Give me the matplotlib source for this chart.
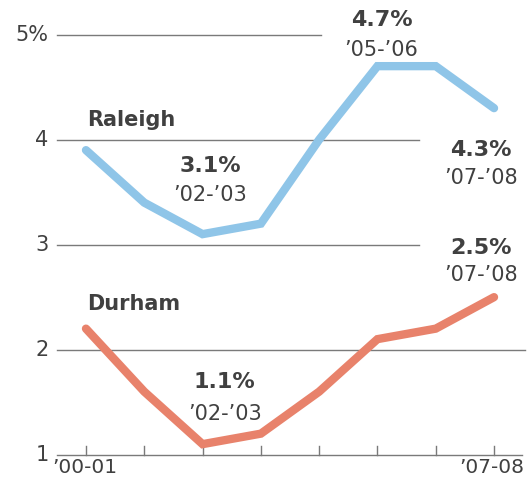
import matplotlib
matplotlib.use("Agg")
import matplotlib.pyplot as plt

years = ["\u201900-01", "\u201901-02", "\u201902-03", "\u201903-04",
         "\u201904-05", "\u201905-06", "\u201906-07", "\u201907-08"]
raleigh = [3.9, 3.4, 3.1, 3.2, 4.0, 4.7, 4.7, 4.3]
durham = [2.2, 1.6, 1.1, 1.2, 1.6, 2.1, 2.2, 2.5]
ytick_vals = [1, 2, 3, 4, 5]
ytick_labels = ["1", "2", "3", "4", "5%"]

plt.rcParams['font.family'] = ['DejaVu Sans']
TXT = "#404040"
BLUE = "#8fc5e8"
RED = "#e8826b"

fig = plt.figure(figsize=(5.29, 4.83), dpi=100)
ax = fig.add_axes([0, 0, 1, 1])
ax.set_xlim(-1.475, 7.6)
ax.set_ylim(0.73, 5.33)
ax.axis("off")

x = list(range(len(years)))

# gridlines with individual extents
grid_ends = {5: 4.03, 4: 5.71, 3: 5.71, 2: 7.53, 1: 7.48}
for v in ytick_vals:
    ax.plot([-0.5, grid_ends[v]], [v, v], color="#7a7a7a", lw=1.0, zorder=1)
for v, lab in zip(ytick_vals, ytick_labels):
    ax.text(-0.64, v, lab, ha="right", va="center", fontsize=15, color=TXT)

# baseline ticks
for xi in x:
    ax.plot([xi, xi], [1, 1.085], color="#7a7a7a", lw=1.0, zorder=1)

ax.text(-0.58, 0.875, years[0], ha="left", va="center", fontsize=14.5, color=TXT)
ax.text(7.52, 0.875, years[-1], ha="right", va="center", fontsize=14.5, color=TXT)

ax.plot(x, raleigh, color=BLUE, lw=6, solid_joinstyle="miter", solid_capstyle="round", zorder=3)
ax.plot(x, durham, color=RED, lw=6, solid_joinstyle="miter", solid_capstyle="round", zorder=3)


def period(i):
    a = years[i].replace("\u2019", "")
    s, e = a.split("-")
    return "\u2019" + s + "-\u2019" + e


def lab(i, xv, y_top, big, gap=0.28):
    ax.text(xv, y_top, big, ha="center", va="center", fontsize=16, fontweight="bold", color=TXT)
    ax.text(xv, y_top - gap, period(i), ha="center", va="center", fontsize=15, color=TXT)


ax.text(0.02, 4.19, "Raleigh", ha="left", va="center", fontsize=15, fontweight="bold", color=TXT)
ax.text(0.02, 2.43, "Durham", ha="left", va="center", fontsize=15, fontweight="bold", color=TXT)

lab(2, 2.13, 3.75, f"{raleigh[2]}%")
lab(5, 5.07, 5.14, f"{raleigh[5]}%", 0.29)
lab(7, 6.78, 3.90, f"{raleigh[7]}%", 0.27)
lab(7, 6.78, 2.97, f"{durham[7]}%", 0.26)
lab(2, 2.38, 1.69, f"{durham[2]}%", 0.30)

fig.savefig("out.png", dpi=100)
